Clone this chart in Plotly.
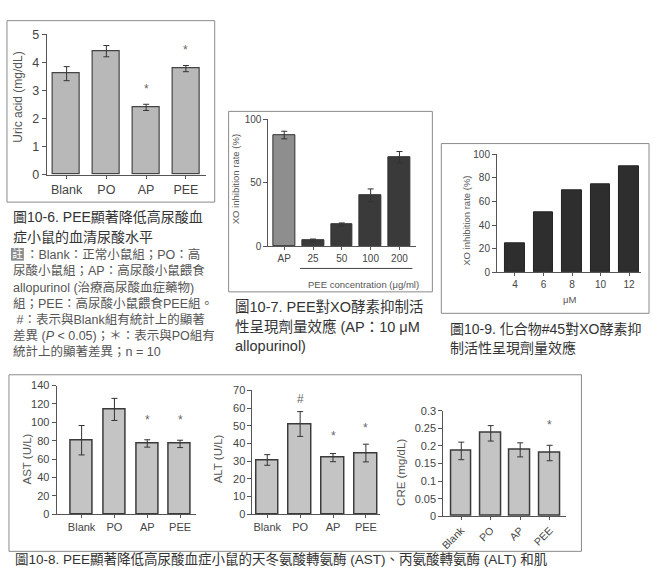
import plotly.graph_objects as go

W, H = 654, 572


def px(x):
    return x / W


def py(y):
    return 1 - y / H


# ---------------- data ----------------
ua_groups = ["Blank", "PO", "AP", "PEE"]
ua_mean = [3.60, 4.40, 2.40, 3.78]
ua_err = [0.25, 0.20, 0.11, 0.11]
ua_sig = ["", "#", "*", "*"]
ua_sig_y = [None, 5.05, 3.05, 4.43]

xo_groups = ["AP", "25", "50", "100", "200"]
xo_mean = [87.5, 4.5, 17, 40, 70]
xo_err = [3, 1, 1.2, 5, 4.5]

c45_conc = ["4", "6", "8", "10", "12"]
c45_rate = [25, 50.5, 69.5, 75, 89.5]

liver_groups = ["Blank", "PO", "AP", "PEE"]
ast_mean = [80.5, 114, 77, 76.5]
ast_err = [16, 12, 4, 4]
ast_sig = ["", "", "*", "*"]
ast_sig_y = [None, None, 103, 103]

alt_mean = [30.7, 51, 32, 34.6]
alt_err = [3, 7, 2.3, 5]
alt_sig = ["", "#", "*", "*"]
alt_sig_y = [None, 65, 44, 49]

cre_mean = [0.186, 0.236, 0.189, 0.180]
cre_err = [0.025, 0.022, 0.02, 0.022]
cre_sig = ["", "", "", "*"]
cre_sig_y = [None, None, None, 0.26]

cap1_title = ["圖10-6. PEE顯著降低高尿酸血", "症小鼠的血清尿酸水平"]
cap1_notes = [
    "：Blank：正常小鼠組；PO：高",
    "尿酸小鼠組；AP：高尿酸小鼠餵食",
    "allopurinol (治療高尿酸血症藥物)",
    "組；PEE：高尿酸小鼠餵食PEE組。",
    " #：表示與Blank組有統計上的顯著",
    "差異 (<i>P</i> &lt; 0.05)；＊：表示與PO組有",
    "統計上的顯著差異；n = 10",
]
cap2 = ["圖10-7. PEE對XO酵素抑制活", "性呈現劑量效應 (AP：10 μM", "allopurinol)"]
cap3 = ["圖10-9. 化合物#45對XO酵素抑", "制活性呈現劑量效應"]
cap4 = "圖10-8. PEE顯著降低高尿酸血症小鼠的天冬氨酸轉氨酶 (AST)、丙氨酸轉氨酶 (ALT) 和肌"

# ---------------- styles ----------------
LAT = "Liberation Sans, Arial, sans-serif"
CJK = "Liberation Sans, Noto Sans CJK TC, sans-serif"
AX = "#555555"
TXT = "#444444"
ERR = dict(type="data", color="#333333", thickness=1, width=3)

fig = go.Figure()

# panel 1: uric acid
fig.add_trace(go.Bar(x=ua_groups, y=ua_mean, width=0.68, xaxis="x", yaxis="y",
                     marker=dict(color="#b8b8b8", line=dict(color="#444444", width=1.2)),
                     error_y=dict(ERR, array=ua_err)))
# panel 2: XO vs PEE
fig.add_trace(go.Bar(x=xo_groups, y=xo_mean, width=0.76, xaxis="x2", yaxis="y2",
                     marker=dict(color=["#8e8e8e"] + ["#3a3a3a"] * 4,
                                 line=dict(color="#333333", width=1)),
                     error_y=dict(ERR, array=xo_err)))
# panel 3: compound #45
fig.add_trace(go.Bar(x=c45_conc, y=c45_rate, width=0.68, xaxis="x3", yaxis="y3",
                     marker=dict(color="#2e2e2e", line=dict(color="#222222", width=1))))
# bottom panels
for mean, err, xa, ya, w in [(ast_mean, ast_err, "x4", "y4", 0.67),
                             (alt_mean, alt_err, "x5", "y5", 0.68),
                             (cre_mean, cre_err, "x6", "y6", 0.71)]:
    fig.add_trace(go.Bar(x=liver_groups, y=mean, width=w, xaxis=xa, yaxis=ya,
                         marker=dict(color="#c4c4c4", line=dict(color="#3a3a3a", width=1.5)),
                         error_y=dict(ERR, array=err)))


def xax(x0, x1, rng, yname, fs, angle=0):
    return dict(domain=[px(x0), px(x1)], range=rng, anchor=yname, type="category",
                showline=True, linecolor=AX, linewidth=1, ticks="outside", ticklen=3,
                tickcolor=AX, showgrid=False, zeroline=False, fixedrange=True,
                tickangle=angle, tickfont=dict(family=LAT, size=fs, color=TXT))


def yax(y0, y1, rng, xname, fs, dtick):
    return dict(domain=[py(y0), py(y1)], range=rng, anchor=xname, showline=True,
                linecolor=AX, linewidth=1, ticks="outside", ticklen=4, tickcolor=AX,
                showgrid=False, zeroline=False, dtick=dtick, fixedrange=True,
                tickfont=dict(family=LAT, size=fs, color=TXT))


fig.update_layout(
    width=W, height=H, margin=dict(l=0, r=0, t=0, b=0),
    paper_bgcolor="white", plot_bgcolor="rgba(0,0,0,0)", showlegend=False,
    bargap=0,
    xaxis=xax(43, 203, [-0.5, 3.5], "y", 12.5),
    yaxis=yax(172, 28, [0, 5], "x", 12.5, 1),
    xaxis2=xax(266, 415, [-0.55, 4.59], "y2", 10),
    yaxis2=yax(245, 115, [0, 100], "x2", 10, 50),
    xaxis3=xax(496, 641, [-0.63, 4.42], "y3", 10),
    yaxis3=yax(272, 151, [0, 100], "x3", 10, 20),
    xaxis4=xax(53, 193, [-0.76, 3.48], "y4", 11),
    yaxis4=yax(520, 388, [0, 140], "x4", 11, 20),
    xaxis5=xax(250, 378, [-0.45, 3.42], "y5", 11),
    yaxis5=yax(520, 393, [0, 70], "x5", 11, 10),
    xaxis6=xax(442, 565, [-0.61, 3.54], "y6", 10.5, -45),
    yaxis6=yax(522, 414, [0, 0.3], "x6", 11, 0.05),
)
fig.update_layout(yaxis6=dict(tickformat="~g"))

# frames
shapes = []
for x0, y0, x1, y1 in [(3, 14, 212, 200), (226, 107, 431, 292), (440, 140, 649, 314), (5, 377, 581, 558)]:
    shapes.append(dict(type="rect", xref="paper", yref="paper", x0=px(x0), x1=px(x1),
                       y0=py(y1), y1=py(y0), line=dict(color="#8a8a8a", width=1)))
# PEE concentration bracket line
shapes.append(dict(type="line", xref="x2", yref="paper", x0=0.55, x1=4.45,
                   y0=py(268), y1=py(268), line=dict(color="#444444", width=1)))
# note marker box
shapes.append(dict(type="rect", xref="paper", yref="paper", x0=px(7), x1=px(20),
                   y0=py(260), y1=py(247), fillcolor="#8c8c8c", line=dict(width=0)))
fig.update_layout(shapes=shapes)

ann = []


def text(x, y, s, size, color=TXT, family=LAT, angle=0, xanchor="center", yanchor="middle"):
    ann.append(dict(x=px(x), y=py(y), xref="paper", yref="paper", text=s, showarrow=False,
                    textangle=angle, xanchor=xanchor, yanchor=yanchor,
                    font=dict(family=family, size=size, color=color)))


# axis titles
text(14, 92, "Uric acid (mg/dL)", 12, color="#555", angle=-90)
text(233, 177, "XO inhibition rate (%)", 9.5, color="#555", angle=-90)
text(362, 284, "PEE concentration (μg/ml)", 9.5, color="#555")
text(465, 219, "XO inhibition rate (%)", 9.5, color="#555", angle=-90)
text(569, 300, "μM", 9.5, color="#555")
text(23, 463, "AST (U/L)", 11.5, color="#555", angle=-90)
text(215, 463, "ALT (U/L)", 11.5, color="#555", angle=-90)
text(400, 477, "CRE (mg/dL)", 11.5, color="#555", angle=-90)

# significance markers
for groups, sig, sy, xa, ya in [(ua_groups, ua_sig, ua_sig_y, "x", "y"),
                                (liver_groups, ast_sig, ast_sig_y, "x4", "y4"),
                                (liver_groups, alt_sig, alt_sig_y, "x5", "y5"),
                                (liver_groups, cre_sig, cre_sig_y, "x6", "y6")]:
    for g, s, v in zip(groups, sig, sy):
        if s:
            ann.append(dict(x=g, y=v, xref=xa, yref=ya, text=s, showarrow=False,
                            font=dict(family=LAT, size=12, color="#666")))

# captions
for i, line in enumerate(cap1_title):
    text(7, 215 + i * 21, line, 14, color="#333", family=CJK, xanchor="left")
text(13.5, 253.5, "註", 11, color="white", family=CJK)
for i, line in enumerate(cap1_notes):
    text(20 if i == 0 else 7, 254 + i * 16.6, line, 12.5, color="#555", family=CJK, xanchor="left")
for i, line in enumerate(cap2):
    text(230, 308 + i * 19.5, line, 14.5, color="#333", family=CJK, xanchor="left")
for i, line in enumerate(cap3):
    text(447, 330 + i * 19.5, line, 14, color="#333", family=CJK, xanchor="left")
text(9, 565.5, cap4, 13.5, color="#333", family=CJK, xanchor="left", yanchor="middle")

fig.update_layout(annotations=ann)
fig.write_html("out.html")
